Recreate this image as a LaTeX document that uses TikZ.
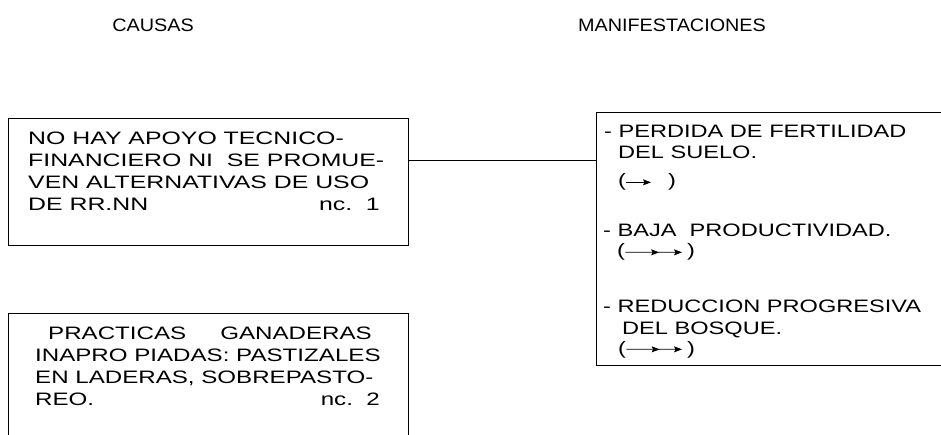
\documentclass[tikz,border=0pt]{standalone}
\usepackage{fontspec}
\setmainfont{Liberation Sans}
\newfontfamily\fA[FakeStretch=1.38]{Liberation Sans}
\newfontfamily\fB[FakeStretch=1.34]{Liberation Sans}
\newfontfamily\fC[FakeStretch=1.31]{Liberation Sans}
\newfontfamily\fT[FakeStretch=1.1]{Liberation Sans}
\usetikzlibrary{arrows.meta,calc}
\begin{document}
\begin{tikzpicture}[x=1pt,y=-1pt,
  edge/.style={line width=0.8pt},
  sz/.style={font=#1\fontsize{18}{21}\selectfont},
  txt/.style={anchor=base west, inner sep=0pt},
  txtr/.style={anchor=base east, inner sep=0pt},
  title/.style={anchor=base, inner sep=0pt, font=\fT\fontsize{18}{21}\selectfont},
  arr/.style={line width=0.8pt, -{Stealth[length=8pt,width=6pt,inset=1.5pt]}},
  lin/.style={line width=0.8pt}
]
\useasboundingbox (0,0) rectangle (941,435);

% titles
\node[title] (t1) at (153,32) {CAUSAS};
\node[title] (t2) at (672,32) {MANIFESTACIONES};

% box 1
\node[edge, draw, rectangle, anchor=north west, minimum width=400pt, minimum height=127pt, inner sep=0pt] (box1) at (8,118) {};
\begin{scope}[every node/.append style={sz=\fA}]
\node[txt] (a1) at (28,144.5) {NO HAY APOYO TECNICO-};
\node[txt] (a2) at (28,166.5) {FINANCIERO NI\ \ SE PROMUE-};
\node[txt] (a3) at (28,188.5) {VEN ALTERNATIVAS DE USO};
\node[txt] (a4) at (28,210.5) {DE RR.NN};
\node[txtr] (a5) at (380,210.5) {nc.\ \ 1};
\end{scope}

% box 2 (open at bottom)
\coordinate (box2bl) at (8,435);
\coordinate (box2tl) at (8,313);
\coordinate (box2tr) at (408,313);
\coordinate (box2br) at (408,435);
\draw[edge] (box2bl) -- (box2tl) -- (box2tr) -- (box2br);
\begin{scope}[every node/.append style={sz=\fB}]
\node[txt] (c1) at (48,339) {PRACTICAS};
\node[txtr] (c1b) at (372,339) {GANADERAS};
\node[txt] (c2) at (35,361) {INAPRO PIADAS: PASTIZALES};
\node[txt] (c3) at (35,383) {EN LADERAS, SOBREPASTO-};
\node[txt] (c4) at (35,405) {REO.};
\node[txtr] (c5) at (380,405) {nc.\ \ 2};
\end{scope}

% box 3 (right side open at picture edge)
\coordinate (box3tr) at (941,112);
\coordinate (box3tl) at (596,112);
\coordinate (box3bl) at (596,365);
\coordinate (box3br) at (941,365);
\draw[edge] (box3tr) -- (box3tl) -- (box3bl) -- (box3br);
\begin{scope}[every node/.append style={sz=\fC}]
\node[txt] (m1) at (604,138) {- PERDIDA DE FERTILIDAD};
\node[txt] (m2) at (618,159) {DEL SUELO.};
\node[txt] (p1l) at (618,187) {(};
\node[txt] (p1r) at (668,187) {)};

\node[txt] (m3) at (603,237) {- BAJA\ \ PRODUCTIVIDAD.};
\node[txt] (p2l) at (617,257) {(};
\node[txt] (p2r) at (687,257) {)};

\node[txt] (m4) at (603,312) {- REDUCCION PROGRESIVA};
\node[txt] (m5) at (622,334) {DEL BOSQUE.};
\node[txt] (p3l) at (618,354) {(};
\node[txt] (p3r) at (687,354) {)};
\end{scope}

\draw[arr] (p1l.east) -- ([xshift=-17pt]p1r.west);

\coordinate (p2m) at ($(p2l.east)!0.5!(p2r.west)$);
\draw[arr] (p2l.east) -- ([xshift=3pt]p2m);
\draw[arr] ([xshift=2pt]p2m) -- ([xshift=-5pt]p2r.west);

\coordinate (p3m) at ($(p3l.east)!0.5!(p3r.west)$);
\draw[arr] (p3l.east) -- ([xshift=3pt]p3m);
\draw[arr] ([xshift=2pt]p3m) -- ([xshift=-5pt]p3r.west);

% connector
\coordinate (j) at (500,160);
\draw[lin] (box1.east |- j) -- (box3tl |- j);
\end{tikzpicture}
\end{document}
